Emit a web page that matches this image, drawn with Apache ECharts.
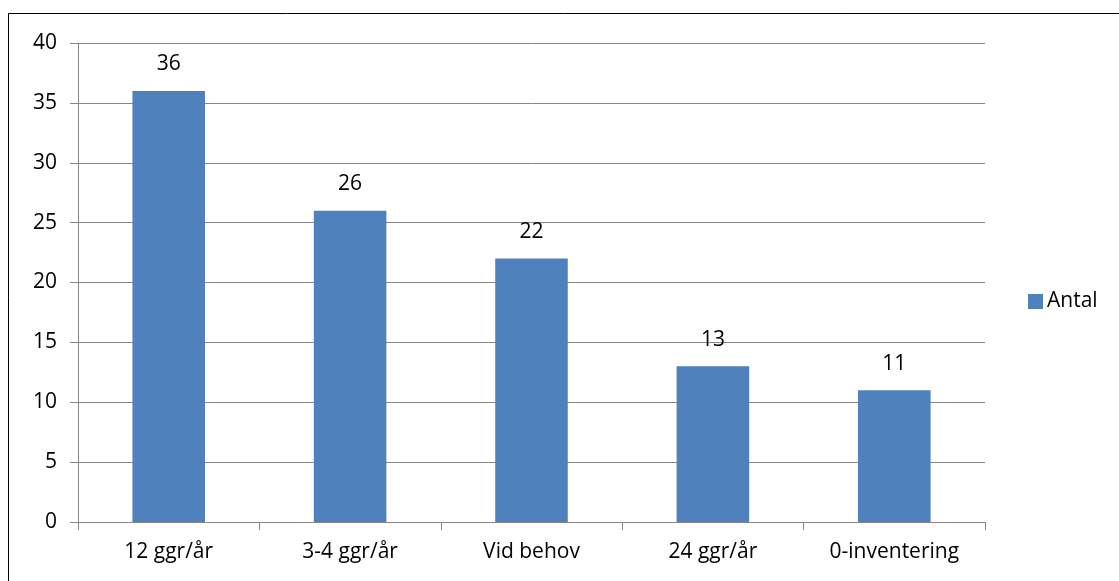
<!DOCTYPE html>
<html><head><meta charset="utf-8">
<script src="https://cdn.jsdelivr.net/npm/echarts@6/dist/echarts.min.js"></script>
<style>html,body{margin:0;padding:0;background:#fff}#c{width:1119px;height:581px}</style>
</head><body><div id="c"></div>
<script>
const categories = ['12 ggr/år', '3-4 ggr/år', 'Vid behov', '24 ggr/år', '0-inventering'];
const antal = [36, 26, 22, 13, 11];
const seriesName = 'Antal';

const chart = echarts.init(document.getElementById('c'), null, {renderer: 'canvas'});
const font = "'Open Sans', 'Liberation Sans', sans-serif";
chart.setOption({
  animation: false,
  backgroundColor: '#fff',
  graphic: [{
    type: 'rect', silent: true,
    shape: {x: 8.5, y: 13.5, width: 1130, height: 600},
    style: {fill: 'none', stroke: '#000', lineWidth: 1}
  }],
  grid: {left: 78, right: 134, top: 43, bottom: 59, containLabel: false},
  legend: {
    data: [seriesName], left: 1028, top: 291, orient: 'vertical',
    itemWidth: 15, itemHeight: 15, itemGap: 6, icon: 'rect', padding: 0,
    textStyle: {fontFamily: font, fontSize: 21, color: '#000', padding: [0,0,0,-1]}
  },
  xAxis: {
    type: 'category', data: categories,
    axisLine: {lineStyle: {color: '#868686', width: 1}},
    axisTick: {show: true, length: 8, lineStyle: {color: '#868686'}},
    axisLabel: {fontFamily: font, fontSize: 21, color: '#000', margin: 20}
  },
  yAxis: {
    type: 'value', min: 0, max: 40, interval: 5,
    axisLine: {show: true, lineStyle: {color: '#868686', width: 1}},
    axisTick: {show: true, length: 8, lineStyle: {color: '#868686'}},
    splitLine: {show: true, lineStyle: {color: '#868686', width: 1}},
    axisLabel: {fontFamily: font, fontSize: 21, color: '#000', margin: 21}
  },
  series: [{
    name: seriesName, type: 'bar', data: antal, barWidth: '40%',
    itemStyle: {color: '#4F81BD'},
    label: {show: true, position: 'top', distance: 16, fontFamily: font, fontSize: 21, color: '#000'}
  }]
});
</script></body></html>
